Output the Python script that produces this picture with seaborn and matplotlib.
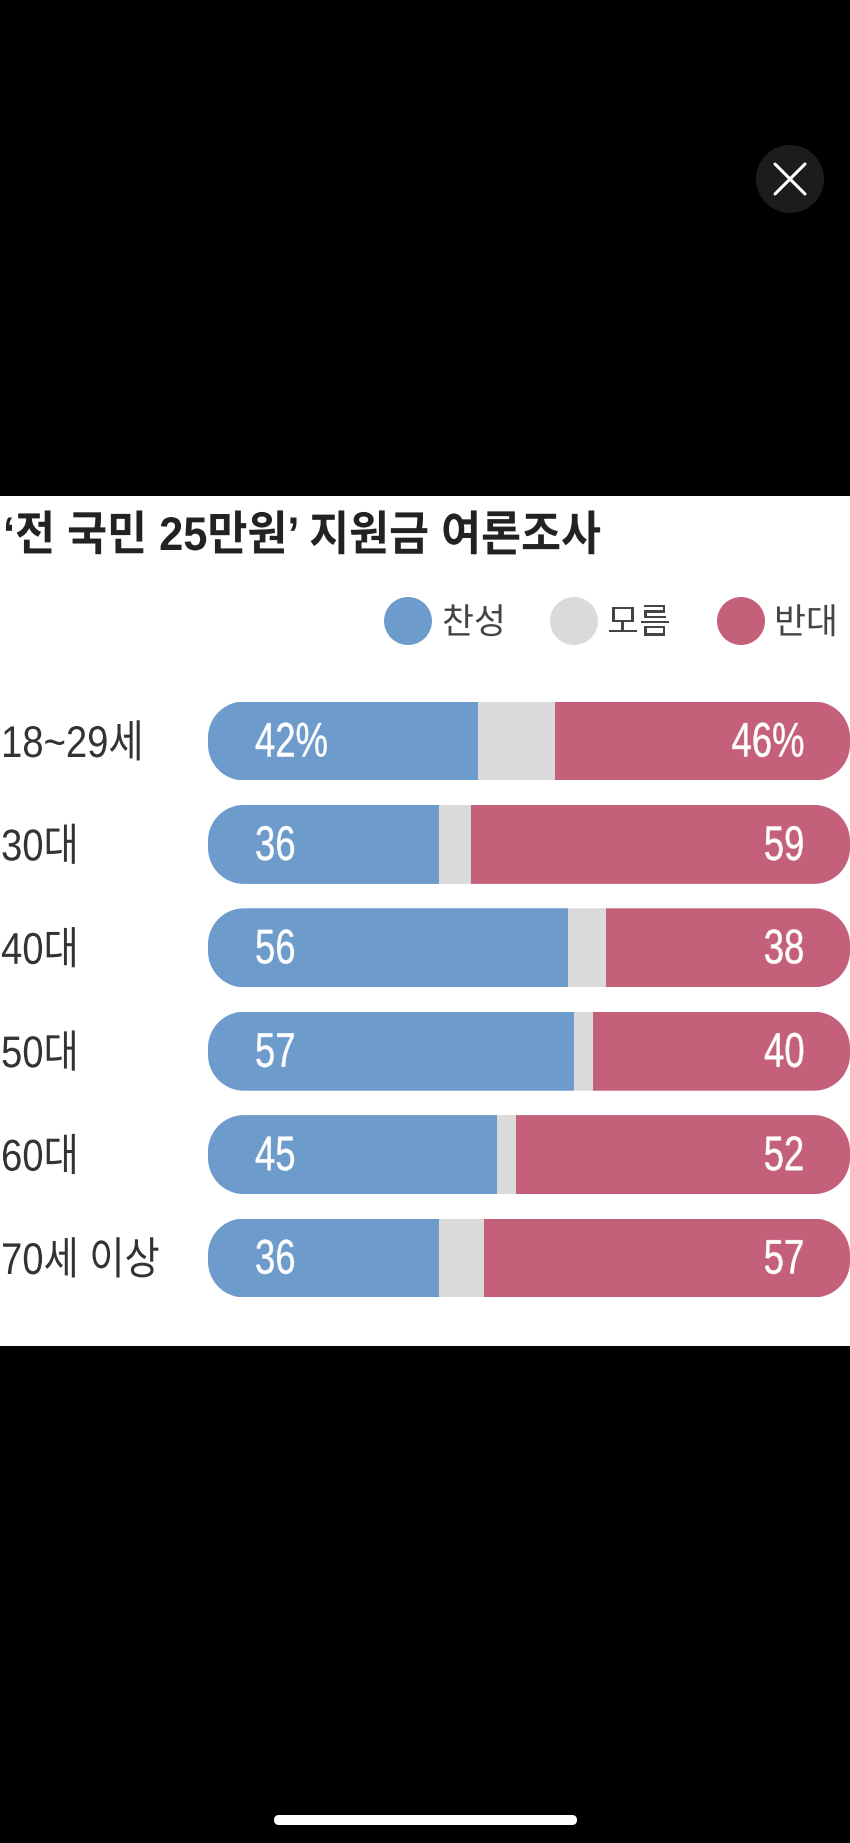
# 전 국민 25만원 지원금 여론조사 - screenshot of a stacked bar chart
import matplotlib
matplotlib.use("Agg")
import numpy as np
import matplotlib.pyplot as plt
import seaborn as sns
from matplotlib.patches import Circle, FancyBboxPatch, Polygon, Rectangle
from matplotlib.patheffects import AbstractPathEffect
from matplotlib.transforms import Affine2D, IdentityTransform

ages = ["18~29세", "30대", "40대", "50대", "60대", "70세 이상"]
chansung = [42, 36, 56, 57, 45, 36]
moreum = [12, 5, 6, 3, 3, 7]
bandae = [46, 59, 38, 40, 52, 57]

title = "‘전 국민 25만원’ 지원금 여론조사"
legend_labels = ["찬성", "모름", "반대"]
colors = ["#6D9BCC", "#DADADA", "#C5607B"]

sns.set_style("white")
plt.rcParams["font.family"] = ["Liberation Sans", "Noto Sans CJK KR", "DejaVu Sans"]


# 원본 글꼴이 좁아서 글자를 가로로 줄이는 효과
class Squeeze(AbstractPathEffect):
    def __init__(self, sx, right=False, stroke=0):
        super().__init__()
        self.sx = sx
        self.right = right
        self.stroke = stroke

    def draw_path(self, renderer, gc, tpath, affine, rgbFace=None):
        x0 = tpath.get_extents().x1 if self.right else 0
        t = Affine2D().translate(-x0, 0).scale(self.sx, 1).translate(x0, 0)
        gc0 = renderer.new_gc()
        gc0.copy_properties(gc)
        if self.stroke:
            gc0.set_linewidth(self.stroke)
            gc0.set_foreground(rgbFace)
        renderer.draw_path(gc0, tpath, t + affine, rgbFace)
        gc0.restore()


def capsule(e, r):
    # 네 모서리가 원호인 다각형 (픽셀 좌표)
    corners = [(e.x1 - r, e.y1 - r, 0), (e.x0 + r, e.y1 - r, 90),
               (e.x0 + r, e.y0 + r, 180), (e.x1 - r, e.y0 + r, 270)]
    pts = []
    for cx, cy, a in corners:
        th = np.radians(np.linspace(a, a + 90, 24))
        pts += list(zip(cx + r * np.cos(th), cy + r * np.sin(th)))
    return Polygon(pts, closed=True, transform=IdentityTransform())


W, H = 850, 1843
fig = plt.figure(figsize=(W / 100, H / 100), dpi=100, facecolor="black")

# 화면 전체를 픽셀 좌표로 쓰는 배경 축
bg = fig.add_axes([0, 0, 1, 1], zorder=0)
bg.set_xlim(0, W)
bg.set_ylim(H, 0)
bg.axis("off")
bg.add_patch(Rectangle((0, 496), W, 850, color="white", lw=0))

# 닫기 버튼과 홈 인디케이터
bg.add_patch(Circle((790, 179), 34, color="#1C1C1C", lw=0))
bg.plot([775, 805], [164, 194], color="white", lw=2.2)
bg.plot([775, 805], [194, 164], color="white", lw=2.2)
bg.add_patch(FancyBboxPatch((274, 1815), 303, 10, boxstyle="round,pad=0,rounding_size=5",
                            color="white", lw=0))

bg.text(3, 538, title, fontsize=34, color="#222222", va="center", ha="left",
        fontweight="bold", path_effects=[Squeeze(0.92)])

# 범례
for cx, tx, label, c in zip([408, 574, 741], [442, 607, 774], legend_labels, colors):
    bg.add_patch(Circle((cx, 621), 24, color=c, lw=0))
    bg.text(tx, 624, label, fontsize=25.5, color="#444444", va="center", ha="left",
            path_effects=[Squeeze(0.98)])

# 막대 축
ax = fig.add_axes([208 / W, 1 - 1309.7 / H, 642 / W, 620.4 / H], zorder=1)
ax.patch.set_alpha(0)

left = [0] * len(ages)
for vals, c in zip([chansung, moreum, bandae], colors):
    sns.barplot(x=vals, y=ages, left=left, color=c, saturation=1, width=0.764,
                orient="h", ax=ax, linewidth=0)
    left = [a + b for a, b in zip(left, vals)]

ax.set_xlim(0, 100)
ax.set_ylim(5.5, -0.5)
ax.set_xlabel("")
ax.set_ylabel("")
ax.set_xticks([])
sns.despine(ax=ax, left=True, bottom=True)
ax.tick_params(axis="y", length=0, pad=149)
for lab in ax.get_yticklabels():
    lab.set_ha("left")
    lab.set_fontsize(32)
    lab.set_color("#333333")
    lab.set_path_effects([Squeeze(0.86)])

# 줄마다 양 끝을 둥글게 자르기
n = len(ages)
bars = list(ax.patches)
for i in range(n):
    row = [bars[i], bars[n + i], bars[2 * n + i]]
    e = row[0].get_window_extent()
    e.x1 = row[2].get_window_extent().x1
    clip = capsule(e, 36)
    for b in row:
        b.set_clip_path(clip)

# 값 라벨
for i in range(n):
    suffix = "%" if i == 0 else ""
    ax.annotate(f"{chansung[i]}{suffix}", (0, i), xytext=(47 * 0.72, -2.2), textcoords="offset points",
                color="white", fontsize=35, va="center", ha="left",
                path_effects=[Squeeze(0.75, stroke=0.3)])
    ax.annotate(f"{bandae[i]}{suffix}", (100, i), xytext=(-45 * 0.72, -2.2), textcoords="offset points",
                color="white", fontsize=35, va="center", ha="right",
                path_effects=[Squeeze(0.75, right=True, stroke=0.3)])

fig.savefig("out.png", dpi=100, facecolor="black")
